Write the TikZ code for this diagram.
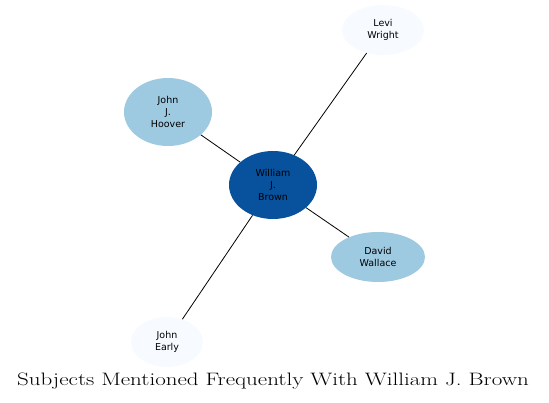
\documentclass[tikz,border=0pt]{standalone}
\usepackage{fontspec}
\setsansfont{DejaVu Sans}
\usetikzlibrary{shapes.geometric}
\definecolor{darkb}{HTML}{08519C}
\definecolor{midb}{HTML}{9ECAE1}
\definecolor{paleb}{HTML}{F7FBFF}
\tikzset{
  person/.style={ellipse, inner sep=0pt, align=center, font=\sffamily\fontsize{9.5}{12}\selectfont, text=black},
  link/.style={draw=black, line width=0.8pt}
}
\begin{document}
\begin{tikzpicture}[x=1pt,y=-1pt]
\useasboundingbox (0,0) rectangle (549,403);
\node[person, fill=darkb, minimum width=88, minimum height=68] (brown) at (273,185) {William\\J.\\Brown};
\node[person, fill=midb, minimum width=88, minimum height=68] (hoover) at (168,112) {John\\J.\\Hoover};
\node[person, fill=paleb, minimum width=82, minimum height=50] (levi) at (383,30) {Levi\\Wright};
\node[person, fill=midb, minimum width=94, minimum height=50] (wallace) at (378,257) {David\\Wallace};
\node[person, fill=paleb, minimum width=72, minimum height=50] (early) at (167,342) {John\\Early};
\draw[link] (brown) -- (levi);
\draw[link] (brown) -- (hoover);
\draw[link] (brown) -- (wallace);
\draw[link] (brown) -- (early);
\node[font=\fontsize{18}{20}\selectfont\rmfamily] (title) at (273,381) {\scalebox{1.277}[1]{Subjects Mentioned Frequently With William J. Brown}};
\end{tikzpicture}
\end{document}
